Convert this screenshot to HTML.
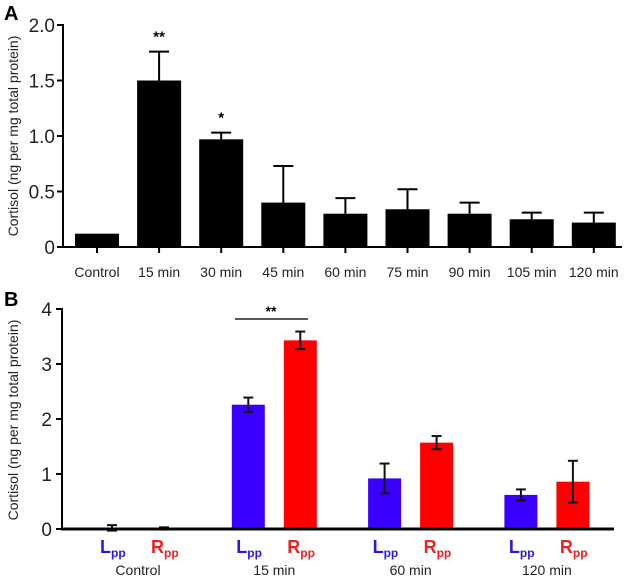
<!DOCTYPE html>
<html><head><meta charset="utf-8"><style>
body{margin:0;background:#fff;}
svg{display:block;font-family:"Liberation Sans",Arial,sans-serif;}
</style></head><body>
<svg id="chart" width="640" height="576" viewBox="0 0 640 576"></svg>
<script>
const catsA=["Control","15 min","30 min","45 min","60 min","75 min","90 min","105 min","120 min"];
const valsA=[0.12,1.50,0.97,0.40,0.30,0.34,0.30,0.25,0.22];
const errA=[0.00,0.26,0.06,0.33,0.14,0.18,0.10,0.06,0.09];
const starsA=["","**","*","","","","","",""];
const ticksA=[0,0.5,1.0,1.5,2.0];
const tickLabelsA=["0","0.5","1.0","1.5","2.0"];

const groupsB=["Control","15 min","60 min","120 min"];
const lppB=[0.02,2.26,0.92,0.62];
const lppErrB=[0.05,0.13,0.27,0.10];
const rppB=[0.01,3.43,1.57,0.86];
const rppErrB=[0.02,0.16,0.12,0.38];
const ticksB=[0,1,2,3,4];

const NS="http://www.w3.org/2000/svg";
const svg=document.getElementById('chart');
function el(t,a,txt){const e=document.createElementNS(NS,t);for(const k in a)e.setAttribute(k,a[k]);if(txt!==undefined)e.textContent=txt;svg.appendChild(e);return e;}

// Panel A
const yA=v=>247-v*111;
const xA=i=>97+i*62.1;
let e;
e=el('text',{x:4,y:20,'font-size':20,'font-weight':'bold'},'A');

e=el('text',{transform:'translate(18,136) rotate(-90)','font-size':14,'text-anchor':'middle',fill:'#222'},'Cortisol (ng per mg total protein)');

ticksA.forEach((t,i)=>{
 e=el('line',{x1:57,x2:63,y1:yA(t),y2:yA(t),stroke:'#000','stroke-width':2});
 
 e=el('text',{x:55,y:yA(t)+7,'font-size':19,'text-anchor':'end',fill:'#222'},tickLabelsA[i]);
 
});
catsA.forEach((c,i)=>{
 const x=xA(i),w=44;
 if(errA[i]>0){
  e=el('line',{x1:x,x2:x,y1:yA(valsA[i]),y2:yA(valsA[i]+errA[i]),stroke:'#000','stroke-width':2});
  
  e=el('line',{x1:x-10,x2:x+10,y1:yA(valsA[i]+errA[i]),y2:yA(valsA[i]+errA[i]),stroke:'#000','stroke-width':2});
  
 }
 e=el('rect',{x:x-w/2,y:yA(valsA[i]),width:w,height:yA(0)-yA(valsA[i]),fill:'#000'});
 
 e=el('line',{x1:x,x2:x,y1:247,y2:253,stroke:'#000','stroke-width':2});
 
 e=el('text',{x:x,y:277,'font-size':14,'text-anchor':'middle',fill:'#222'},c);
 
 if(starsA[i]){
  e=el('text',{x:x,y:yA(valsA[i]+errA[i])-10,'font-size':15,'font-weight':'bold','text-anchor':'middle'},starsA[i]);
  
 }
});
e=el('line',{x1:63,x2:63,y1:24,y2:248,stroke:'#000','stroke-width':2});

e=el('line',{x1:62,x2:622,y1:247,y2:247,stroke:'#000','stroke-width':2});


// Panel B
const yB=v=>529-v*55;
const gx=i=>129+i*136.3;
e=el('text',{x:4,y:306,'font-size':20,'font-weight':'bold'},'B');

e=el('text',{transform:'translate(18,420) rotate(-90)','font-size':14,'text-anchor':'middle',fill:'#222'},'Cortisol (ng per mg total protein)');

ticksB.forEach(t=>{
 e=el('line',{x1:56,x2:62,y1:yB(t),y2:yB(t),stroke:'#000','stroke-width':2});
 
 e=el('text',{x:52,y:yB(t)+7,'font-size':19,'text-anchor':'end',fill:'#222'},String(t));
 
});
function barB(cx,v,er,col,name){
 const w=33;
 e=el('rect',{x:cx-w/2,y:yB(v),width:w,height:yB(0)-yB(v),fill:col});
 
 e=el('line',{x1:cx,x2:cx,y1:yB(v-er),y2:yB(v+er),stroke:'#111','stroke-width':2});
 
 [v-er,v+er].forEach(q=>{
  e=el('line',{x1:cx-5,x2:cx+5,y1:yB(q),y2:yB(q),stroke:'#111','stroke-width':2});
  
 });
}
groupsB.forEach((g,i)=>{
 const c=gx(i);
 barB(c-17,lppB[i],lppErrB[i],'#3a00ff','bar-b-lpp-'+g.replace(' ','-').toLowerCase());
 barB(c+35,rppB[i],rppErrB[i],'#ff0000','bar-b-rpp-'+g.replace(' ','-').toLowerCase());
 e=el('text',{x:c-29,y:553,'font-size':18,'font-weight':'bold',fill:'#2a1ad8'});
 e.innerHTML='L<tspan font-size="12" dy="4">pp</tspan>';
 
 e=el('text',{x:c+22,y:553,'font-size':18,'font-weight':'bold',fill:'#ee2020'});
 e.innerHTML='R<tspan font-size="12" dy="4">pp</tspan>';
 
 e=el('text',{x:c+9,y:575,'font-size':14,'text-anchor':'middle',fill:'#222'},g);
 
});
e=el('line',{x1:235,x2:308,y1:319,y2:319,stroke:'#222','stroke-width':1.5});

e=el('text',{x:271,y:316,'font-size':14,'font-weight':'bold','text-anchor':'middle'},'**');

e=el('line',{x1:62,x2:62,y1:308,y2:530,stroke:'#000','stroke-width':2});

e=el('line',{x1:61,x2:614,y1:529,y2:529,stroke:'#000','stroke-width':3});

</script>
</body></html>
